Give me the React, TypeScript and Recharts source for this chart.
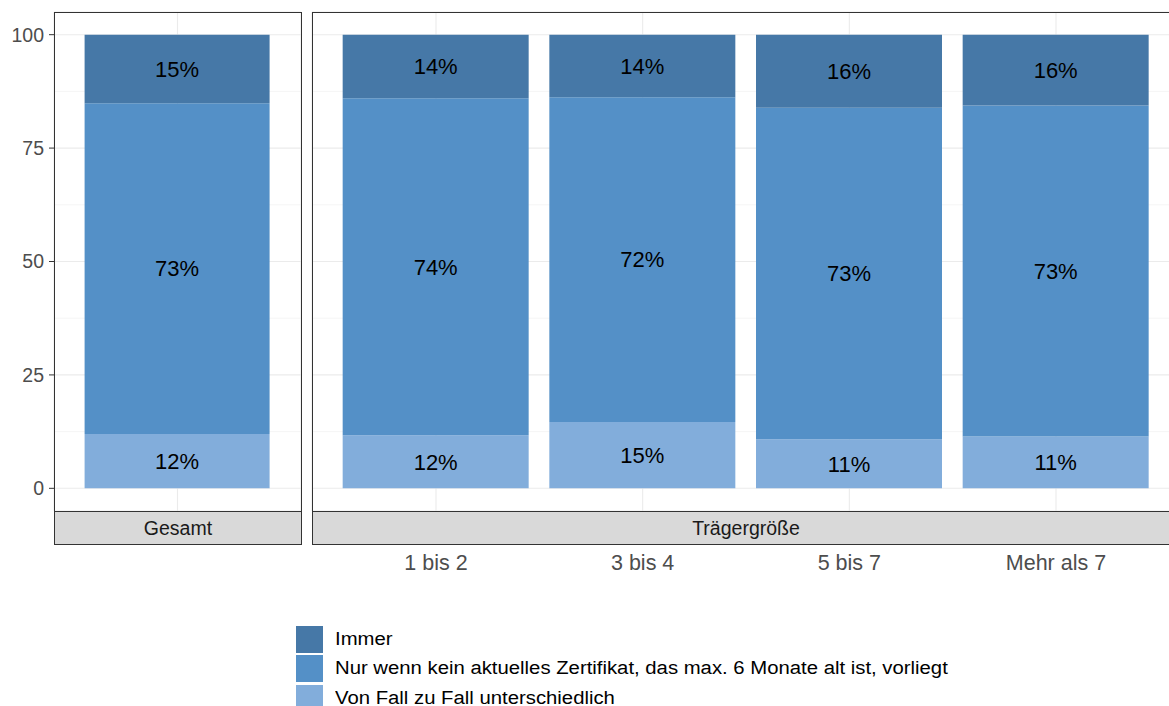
import React from "react";
import { BarChart, Bar, XAxis, YAxis, CartesianGrid, LabelList, Legend } from "recharts";

const FONT = '"Liberation Sans", Arial, sans-serif';

const facetLabels = ["Gesamt", "Trägergröße"];
const totalCategories = ["Gesamt"];
const sizeCategories = ["1 bis 2", "3 bis 4", "5 bis 7", "Mehr als 7"];
// order: Gesamt, 1 bis 2, 3 bis 4, 5 bis 7, Mehr als 7
const vonFallValues = [12.0, 11.7, 14.6, 10.8, 11.4];
const nurWennValues = [72.9, 74.3, 71.6, 73.1, 73.0];
const immerValues = [15.1, 14.0, 13.8, 16.1, 15.6];
const yTicks = [0, 25, 50, 75, 100];
const yMinorTicks = [12.5, 37.5, 62.5, 87.5];
const yDomain = [-5, 105];

const seriesKeys = ["vonFall", "nurWenn", "immer"];
const seriesNames = [
  "Von Fall zu Fall unterschiedlich",
  "Nur wenn kein aktuelles Zertifikat, das max. 6 Monate alt ist, vorliegt",
  "Immer",
];
const seriesColors = ["#82ADDB", "#5490C7", "#4678A7"];
const seriesValues = [vonFallValues, nurWennValues, immerValues];

const buildRows = (cats: string[], offset: number) =>
  cats.map((c, i) => {
    const row: Record<string, any> = { category: c };
    seriesKeys.forEach((k, s) => {
      row[k] = seriesValues[s][offset + i];
    });
    return row;
  });

const totalData = buildRows(totalCategories, 0);
const sizeData = buildRows(sizeCategories, 1);

const pct = (v: any) => `${Math.round(Number(v))}%`;

const renderBars = (size: number) =>
  seriesKeys.map((k, s) => (
    <Bar
      key={k}
      dataKey={k}
      name={seriesNames[s]}
      stackId="a"
      fill={seriesColors[s]}
      barSize={size}
      isAnimationActive={false}
    >
      <LabelList
        dataKey={k}
        position="center"
        formatter={pct}
        fill="#000000"
        style={{ fontSize: 22, fontFamily: FONT }}
      />
    </Bar>
  ));

const minorGen = (props: any) => {
  const off = props?.offset;
  if (!off || typeof off.top !== "number" || typeof off.height !== "number") return [];
  const [lo, hi] = yDomain;
  return yMinorTicks.map((t) => off.top + ((hi - t) / (hi - lo)) * off.height);
};

const renderGrids = () => [
  <CartesianGrid
    key="minor"
    stroke="#F0F0F0"
    strokeWidth={0.7}
    vertical={false}
    horizontalCoordinatesGenerator={minorGen}
  />,
  <CartesianGrid key="major" stroke="#EBEBEB" strokeWidth={1.1} />,
];

const XTick = (props: any) => {
  const { x, y, payload } = props;
  return (
    <text x={x} y={y + 59} textAnchor="middle" fill="#4D4D4D" fontSize={21.5} fontFamily={FONT}>
      {payload.value}
    </text>
  );
};

const renderLegend = () => (
  <div style={{ fontFamily: FONT }}>
    {[2, 1, 0].map((i) => (
      <div key={i} style={{ display: "flex", alignItems: "center", height: 29.3 }}>
        <div style={{ width: 27, height: 27, background: seriesColors[i], marginRight: 12, flex: "none" }} />
        <span
          style={{
            fontSize: 18,
            color: "#000",
            display: "inline-block",
            transform: "scaleX(1.128)",
            transformOrigin: "left center",
            whiteSpace: "nowrap",
          }}
        >
          {seriesNames[i]}
        </span>
      </div>
    ))}
  </div>
);

const stripStyle: React.CSSProperties = {
  position: "absolute",
  top: 511,
  height: 34,
  boxSizing: "border-box",
  background: "#D9D9D9",
  border: "1px solid #333333",
  display: "flex",
  alignItems: "center",
  justifyContent: "center",
  fontFamily: FONT,
  fontSize: 19.5,
  color: "#1A1A1A",
};

const panelStyle: React.CSSProperties = {
  position: "absolute",
  top: 12,
  height: 500,
  boxSizing: "border-box",
  border: "1px solid #333333",
  pointerEvents: "none",
};

export default function App() {
  return (
    <div
      style={{
        position: "absolute",
        left: 0,
        top: 0,
        width: 1169,
        height: 706,
        overflow: "hidden",
        background: "#FFFFFF",
      }}
    >
      <div style={{ position: "absolute", left: 0, top: 0 }}>
        <BarChart
          width={1169}
          height={706}
          data={totalData}
          margin={{ top: 12, right: 868, bottom: 195, left: 0 }}
        >
          {renderGrids()}
          <XAxis dataKey="category" type="category" hide padding={{ left: 20.6, right: 20.6 }} />
          <YAxis
            type="number"
            domain={yDomain}
            ticks={yTicks}
            allowDataOverflow
            width={54}
            tickSize={5}
            tickMargin={5}
            axisLine={false}
            tickLine={{ stroke: "#333333" }}
            tick={{ fill: "#4D4D4D", fontSize: 19.5, fontFamily: FONT }}
          />
          {renderBars(185)}
        </BarChart>
      </div>
      <div style={{ position: "absolute", left: 0, top: 0 }}>
        <BarChart
          width={1200}
          height={706}
          data={sizeData}
          margin={{ top: 12, right: 20, bottom: 135, left: 312 }}
        >
          {renderGrids()}
          <XAxis
            dataKey="category"
            type="category"
            height={60}
            padding={{ left: 20.67, right: 20.67 }}
            axisLine={false}
            tickLine={false}
            tickSize={0}
            tickMargin={0}
            tick={<XTick />}
            interval={0}
          />
          <YAxis type="number" domain={yDomain} ticks={yTicks} allowDataOverflow hide />
          {renderBars(186)}
          <Legend
            layout="vertical"
            align="center"
            verticalAlign="middle"
            content={renderLegend}
            wrapperStyle={{ left: 296, top: 625, width: 720, height: 90 }}
          />
        </BarChart>
      </div>
      <div style={{ ...panelStyle, left: 54, width: 248 }} />
      <div style={{ ...panelStyle, left: 312, width: 900 }} />
      <div style={{ ...stripStyle, left: 54, width: 248 }}>{facetLabels[0]}</div>
      <div style={{ ...stripStyle, left: 312, width: 868 }}>{facetLabels[1]}</div>
    </div>
  );
}
